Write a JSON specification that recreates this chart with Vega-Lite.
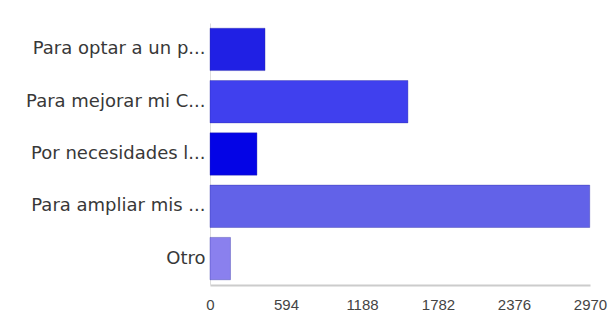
{
  "$schema": "https://vega.github.io/schema/vega-lite/v6.json",
  "width": 380,
  "height": 262,
  "autosize": {"type": "none"},
  "padding": {"left": 210, "top": 23, "right": 25, "bottom": 33},
  "background": "white",
  "data": {
    "values": [
      {"label": "Para optar a un p...", "count": 430, "color": "#2020e4"},
      {"label": "Para mejorar mi C...", "count": 1547, "color": "#4040ee"},
      {"label": "Por necesidades l...", "count": 367, "color": "#0404e6"},
      {"label": "Para ampliar mis ...", "count": 2968, "color": "#6262e8"},
      {"label": "Otro", "count": 160, "color": "#8a80ee"}
    ]
  },
  "mark": {"type": "bar", "stroke": "#2a2aa0", "strokeWidth": 0.6, "strokeOpacity": 0.6},
  "encoding": {
    "y": {
      "field": "label",
      "type": "nominal",
      "sort": null,
      "scale": {"paddingInner": 0.19, "paddingOuter": 0.1},
      "axis": {
        "title": null,
        "ticks": false,
        "domain": true,
        "domainColor": "#dddddd",
        "labelFont": "DejaVu Sans",
        "labelFontSize": 18,
        "labelColor": "#383838",
        "labelPadding": 5,
        "labelLimit": 300
      }
    },
    "x": {
      "field": "count",
      "type": "quantitative",
      "scale": {"domain": [0, 2970], "nice": false},
      "axis": {
        "title": null,
        "values": [0, 594, 1188, 1782, 2376, 2970],
        "format": "d",
        "ticks": false,
        "grid": false,
        "domainColor": "#cccccc",
        "domainWidth": 2,
        "labelFont": "Liberation Sans",
        "labelFontSize": 15,
        "labelColor": "#444444",
        "labelPadding": 12,
        "labelFlush": false
      }
    },
    "color": {"field": "color", "type": "nominal", "scale": null, "legend": null}
  },
  "config": {"view": {"stroke": null}}
}
